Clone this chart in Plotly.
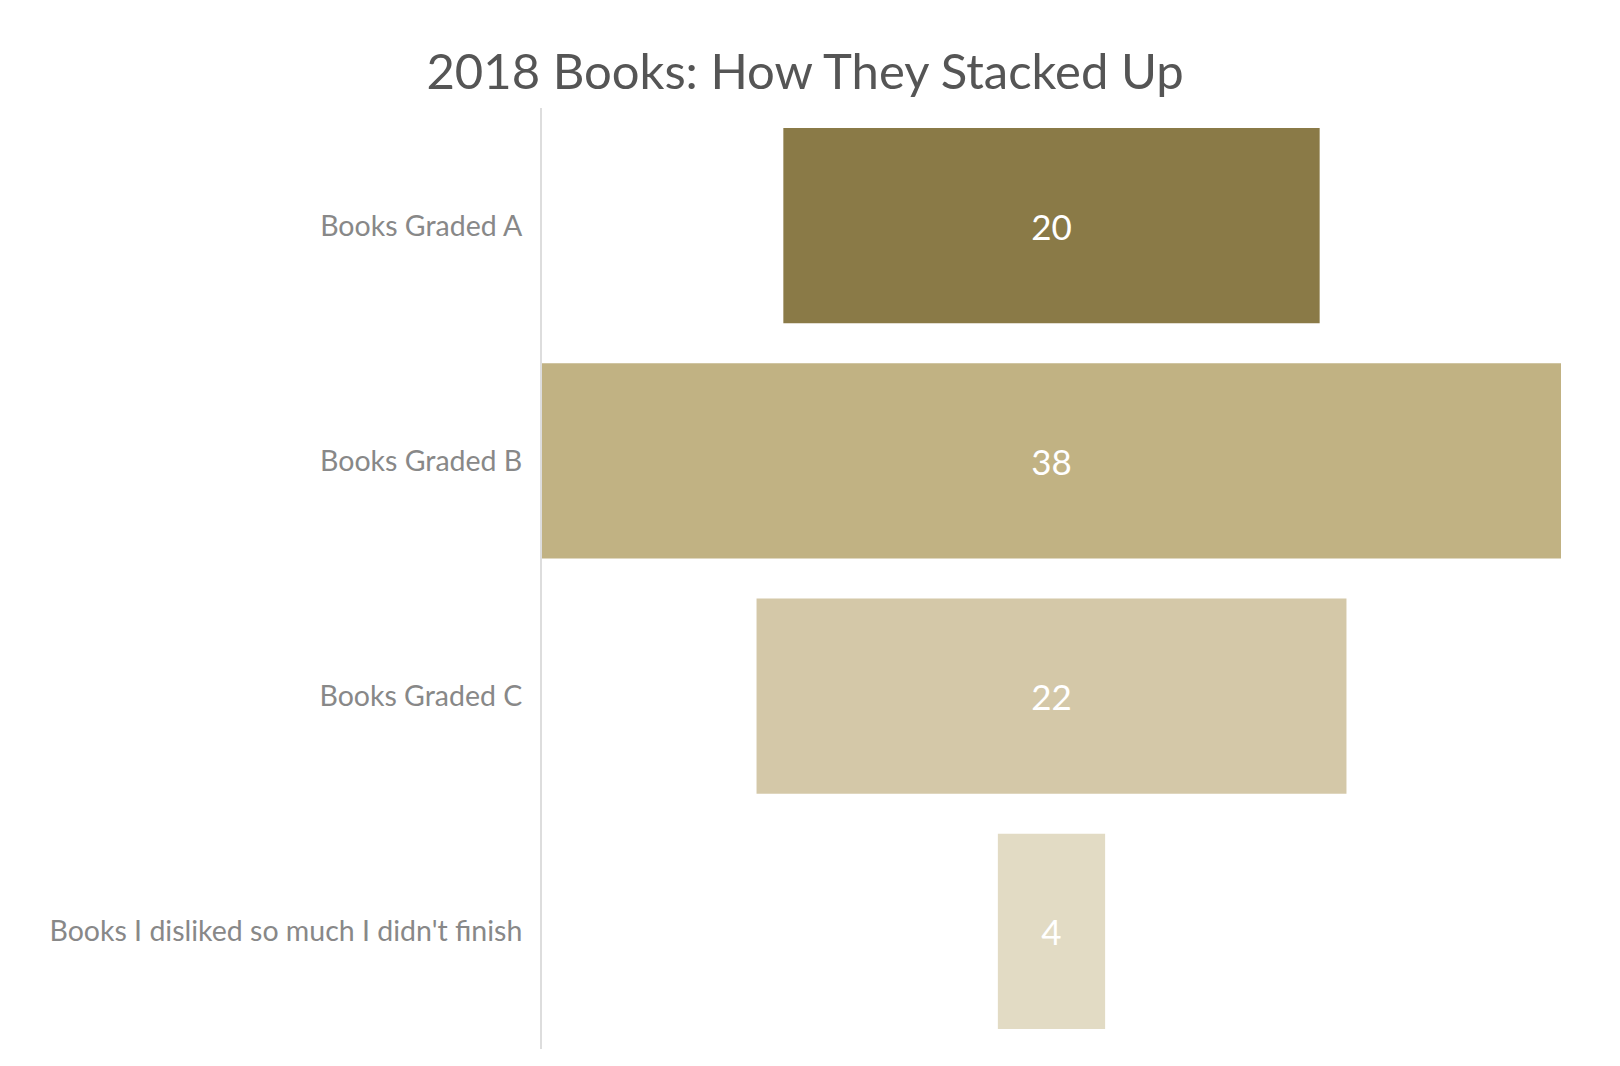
""" 2018 books funnel: how they stacked up """

import plotly.graph_objects as go

# Stage labels, top to bottom
stages = ["Books Graded A", "Books Graded B", "Books Graded C",
          "Books I disliked so much I didn't finish"]
# Number of books at each stage
counts = [20, 38, 22, 4]
# One colour per stage
stage_colors = ["#8a7a47", "#c1b283", "#d4c8a8", "#e2dbc4"]

FONT = "Lato, 'Open Sans', sans-serif"

# funnel bars are centred on zero, so the widest one fills the axis
half = max(counts) / 2

fig = go.Figure(go.Funnel(
    y=stages,
    x=counts,
    marker={"color": stage_colors, "line": {"width": 0}},
    connector={"visible": False},
    textinfo="value",
    textposition="inside",
    insidetextfont={"color": "white", "size": 35, "family": FONT},
    hoverinfo="y+x",
))

fig.update_layout(
    title=dict(text="2018 Books: How They Stacked Up",
               x=0.492, xanchor="center", y=0.94, yanchor="middle",
               font=dict(size=49, color="#555555", family=FONT)),
    width=1620,
    height=1066,
    margin=dict(l=534, r=67, t=100, b=25),
    paper_bgcolor="white",
    plot_bgcolor="white",
    funnelgap=0.17,
    showlegend=False,
    font=dict(family=FONT),
    yaxis=dict(showline=True, linecolor="#dddddd", linewidth=2,
               ticks="", ticklen=0,
               tickfont=dict(size=28.5, color="#888888", family=FONT),
               ticklabelstandoff=12),
    xaxis=dict(visible=False, range=[-half, half]),
)

fig.write_html("out.html")
